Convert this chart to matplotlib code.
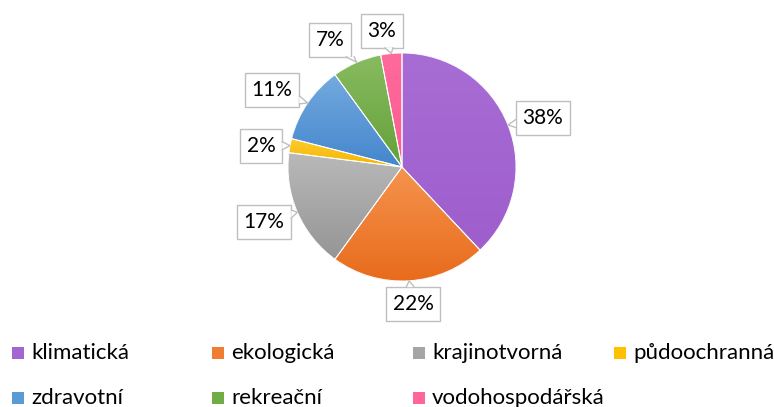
import numpy as np
import matplotlib
matplotlib.use("Agg")
import matplotlib.pyplot as plt
from matplotlib.colors import LinearSegmentedColormap
from matplotlib.patches import Wedge, Rectangle, Polygon

plt.rcParams['font.family'] = ['Lato', 'DejaVu Sans']

# share of each function (percent)
labels = ["klimatická", "ekologická", "krajinotvorná", "půdoochranná",
          "zdravotní", "rekreační", "vodohospodářská"]
values = [38, 22, 17, 2, 11, 7, 3]

# (top, bottom) colours of the slice gradients
tops = ["#A86DD4", "#F5944F", "#B9B9B9", "#FFCB2E", "#74AADF", "#88BB60", "#FF6A9C"]
bottoms = ["#9E5ECD", "#E86B1B", "#959595", "#F2B500", "#4486CD", "#64A139", "#FB5C91"]
swatch = ["#A366D1", "#F07E32", "#A5A5A5", "#FFC000", "#5B9BD5", "#70AD47", "#FF6699"]

# layout in pixels: pie centre and radius
W, H = 774, 407
cx, cy, R = 402, 167, 114

def px(x, y):
    return (x - cx) / R, (cy - y) / R

# label box centres (pixels)
label_px = [(543, 118), (413, 304), (264, 222), (261, 146),
            (272, 90), (330, 40), (382, 31)]

fig = plt.figure(figsize=(W / 100, H / 100), dpi=100)
ax = fig.add_axes([0, 0, 1, 1])

wedges, _ = ax.pie(values, startangle=90, counterclock=False, radius=1,
                   colors=swatch, wedgeprops=dict(edgecolor="none"))

# vertical gradient inside every slice
grad = np.linspace(0, 1, 256).reshape(-1, 1)
for w, t, b in zip(wedges, tops, bottoms):
    v = w.get_path().vertices
    x0, x1 = v[:, 0].min(), v[:, 0].max()
    y0, y1 = v[:, 1].min(), v[:, 1].max()
    cmap = LinearSegmentedColormap.from_list("g", [b, t])
    im = ax.imshow(grad, extent=(x0, x1, y0, y1), origin="lower",
                   cmap=cmap, aspect="auto", zorder=2, interpolation="bilinear")
    im.set_clip_path(w)
    ax.add_patch(Wedge(w.center, w.r, w.theta1, w.theta2, fill=False,
                       ec="white", lw=0.7, zorder=3))

ax.set_xlim(-cx / R, (W - cx) / R)
ax.set_ylim(-(H - cy) / R, cy / R)
ax.set_aspect("auto")
ax.axis("off")

# callout labels
cum = np.cumsum([0] + values[:-1])
boxes = []
tips = []
for v, c0, (lx, ly) in zip(values, cum, label_px):
    ang = np.deg2rad(90 - (c0 + v / 2) / 100 * 360)
    tips.append((np.cos(ang), np.sin(ang)))
    t = ax.text(*px(lx, ly), "%d%%" % v, ha="center", va="center",
                fontsize=15, color="#000000", zorder=5,
                bbox=dict(boxstyle="square,pad=0.33", fc="white", ec="#BFBFBF", lw=1))
    boxes.append(t)

# small pointer from each box towards its slice
fig.canvas.draw()
inv = ax.transData.inverted()
half = 4 / R
for t, tip in zip(boxes, tips):
    ext = t.get_bbox_patch().get_window_extent()
    (bx0, by0), (bx1, by1) = inv.transform([[ext.x0, ext.y0], [ext.x1, ext.y1]])
    mx, my = (bx0 + bx1) / 2, (by0 + by1) / 2
    dx, dy = tip[0] - mx, tip[1] - my
    # where the line centre->tip leaves the box
    sx = (bx1 - mx) / abs(dx) if dx != 0 else np.inf
    sy = (by1 - my) / abs(dy) if dy != 0 else np.inf
    s = min(sx, sy)
    ex, ey = mx + dx * s, my + dy * s
    if sx < sy:
        b1, b2 = (ex, ey - half), (ex, ey + half)
    else:
        b1, b2 = (ex - half, ey), (ex + half, ey)
    ax.add_patch(Polygon([b1, tip, b2], closed=True, fc="white", ec="none", zorder=6))
    ax.plot([b1[0], tip[0], b2[0]], [b1[1], tip[1], b2[1]], color="#BFBFBF",
            lw=1, zorder=7, solid_joinstyle="miter")

# legend in two rows
col_x = [12, 212, 413, 614]
row_y = [353, 398]
for i, (lab, col) in enumerate(zip(labels, swatch)):
    x = col_x[i % 4]
    y = row_y[i // 4]
    sx, sy = px(x, y + 6)
    ax.add_patch(Rectangle((sx, sy), 12 / R, 12 / R, fc=col, ec="none", zorder=4))
    tx, ty = px(x + 19, y)
    ax.text(tx, ty, lab, ha="left", va="center", fontsize=16, color="#000000")

ax.set_xlim(-cx / R, (W - cx) / R)
ax.set_ylim(-(H - cy) / R, cy / R)

fig.savefig("out.png", dpi=100)
